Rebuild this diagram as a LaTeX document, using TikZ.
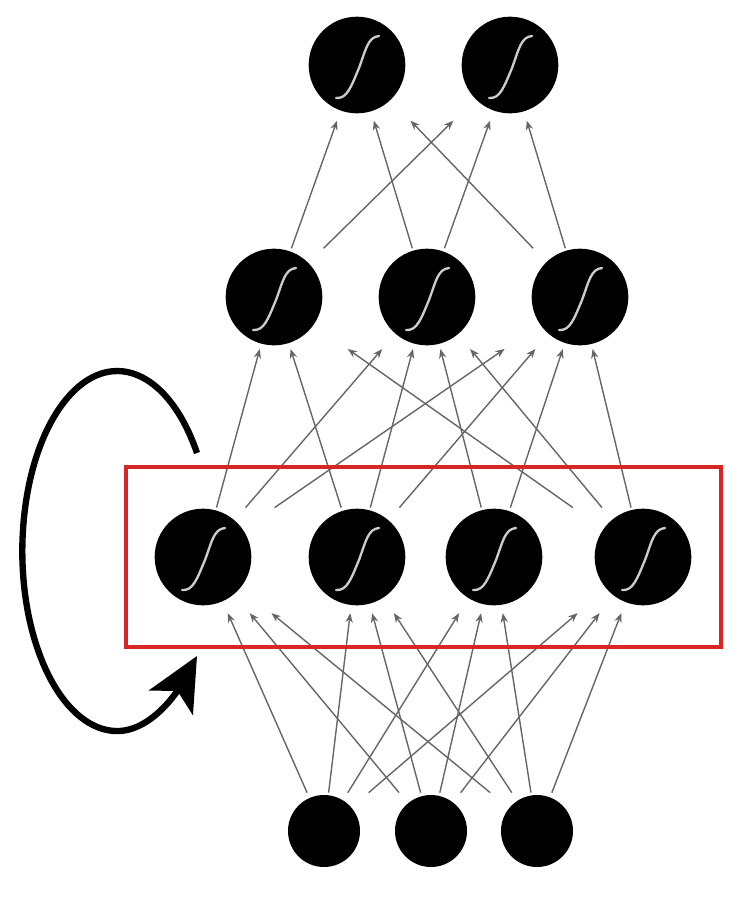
\documentclass[tikz,border=0pt]{standalone}
\usetikzlibrary{calc,arrows.meta}
\definecolor{framered}{RGB}{216,38,38}
\begin{document}
\begin{tikzpicture}[x=0.3mm,y=-0.3mm,
  neuron/.style={circle,fill=black,inner sep=0pt,minimum size=29mm},
  inputunit/.style={circle,fill=black,inner sep=0pt,minimum size=21.6mm},
  link/.style={draw=black!60,line width=0.42mm,-{Stealth[length=2.8mm,width=2.2mm]}},
  sigcurve/.style={draw=black!20,line width=0.7mm,line cap=round},
  recurarrow/.style={draw=black,line width=1.9mm,-{Stealth[length=16mm,width=15mm,inset=4mm]}},
  rbox/.style={draw=framered,line width=1.2mm},
  sigmoid/.pic={\draw[sigcurve] (-21,33) .. controls (-10,34) and (-6,22) .. (2,3)
                 .. controls (9,-16) and (11,-28) .. (22,-29);}]
\useasboundingbox (0,0) rectangle (754,920);

% output layer
\node[neuron] (o1) at (357,65) {};
\node[neuron] (o2) at (510,65) {};
% second hidden layer
\node[neuron] (h1) at (274,297) {};
\node[neuron] (h2) at (427,297) {};
\node[neuron] (h3) at (580,297) {};
% recurrent hidden layer
\node[neuron] (r1) at (203,557) {};
\node[neuron] (r2) at (357,557) {};
\node[neuron] (r3) at (494,557) {};
\node[neuron] (r4) at (643,557) {};
% input layer
\node[inputunit] (i1) at (324,831) {};
\node[inputunit] (i2) at (431,831) {};
\node[inputunit] (i3) at (537,831) {};

\foreach \n in {o1,o2,h1,h2,h3,r1,r2,r3,r4} \pic at (\n) {sigmoid};

% weights: second hidden -> output
\foreach \a in {h1,h2,h3}
  \foreach \b in {o1,o2}
    \draw[link] ($(\a)!0.21!(\b)$) -- ($(\a)!0.76!(\b)$);

% weights: recurrent layer -> second hidden
\foreach \a/\b in {r1/h1,r1/h2,r1/h3,r2/h1,r2/h2,r2/h3,r3/h2,r3/h3,r4/h1,r4/h2,r4/h3}
  \draw[link] ($(\a)!0.19!(\b)$) -- ($(\a)!0.80!(\b)$);

% weights: input -> recurrent layer
\foreach \a in {i1,i2,i3}
  \foreach \b in {r1,r2,r3,r4}
    \draw[link] ($(\a)!0.14!(\b)$) -- ($(\a)!0.795!(\b)$);

% recurrent layer frame
\draw[rbox] (126,467) rectangle (721,647);

% recurrence loop
\coordinate (loopS) at (197,453);
\coordinate (loopE) at (197,656);
\draw[recurarrow] (loopS) arc[start angle=-33, end angle=-270, x radius=95, y radius=180]
  .. controls (152,731) and (178,690) .. (loopE);
\end{tikzpicture}
\end{document}
